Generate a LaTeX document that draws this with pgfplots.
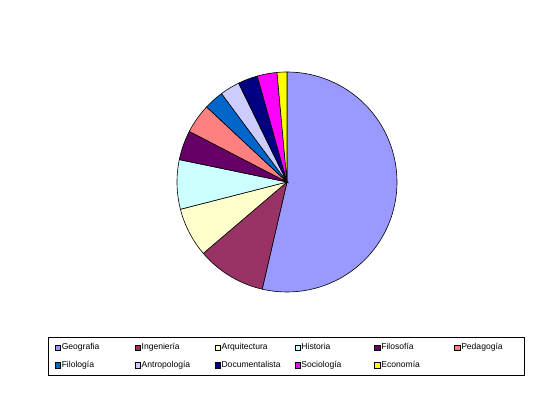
\documentclass[border=0pt]{standalone}
\usepackage{fontspec}
\setmainfont{Liberation Sans}
\usepackage{pgfplots}
\pgfplotsset{compat=1.18}

% slice colours
\definecolor{cGeo}{HTML}{9999FF}
\definecolor{cIng}{HTML}{993366}
\definecolor{cArq}{HTML}{FFFFCC}
\definecolor{cHis}{HTML}{CCFFFF}
\definecolor{cFil}{HTML}{660066}
\definecolor{cPed}{HTML}{FF8080}
\definecolor{cFlg}{HTML}{0066CC}
\definecolor{cAnt}{HTML}{CCCCFF}
\definecolor{cDoc}{HTML}{000080}
\definecolor{cSoc}{HTML}{FF00FF}
\definecolor{cEco}{HTML}{FFFF00}

% pie geometry (axis units = bp)
\def\cx{287}
\def\cy{220}
\def\rad{110}
\def\total{69}
\gdef\cum{0}

% one wedge: #1 count, #2 colour, #3 legend text
\newcommand\pieslice[3]{%
  \pgfmathsetmacro\sA{90-\cum/\total*360}%
  \pgfmathsetmacro\cumnew{\cum+#1}%
  \pgfmathsetmacro\sB{90-\cumnew/\total*360}%
  \global\let\cum\cumnew
  \edef\doslice{\noexpand\addplot[fill=#2, draw=black, line width=0.6bp,
      domain=\sB:\sA, samples=90]
    ({\cx+\rad*cos(x)},{\cy+\rad*sin(x)}) -- (axis cs:\cx,\cy) -- cycle;}%
  \doslice
  \addlegendentry{#3}%
}

\begin{document}
\begin{tikzpicture}
\useasboundingbox (0,0) rectangle (558bp,402bp);
\begin{axis}[
  at={(0,0)}, anchor=south west,
  width=558bp, height=402bp, scale only axis,
  xmin=0, xmax=558, ymin=0, ymax=402,
  hide axis, clip=false,
  legend columns=6,
  legend cell align=left,
  legend image code/.code={\draw[#1, draw=black, line width=0.5bp] (0bp,-2.8bp) rectangle (5.6bp,2.8bp);},
  legend style={
    at={(axis cs:48,65)}, anchor=north west,
    draw=black, line width=0.7bp,
    font=\fontsize{8.6}{10}\selectfont,
    inner xsep=6.5bp, inner ysep=5.5bp,
    nodes={inner sep=0.8bp, line width=0.5bp},
    /tikz/column sep=0pt,
    /tikz/row sep=8.5bp,
  },
]
\pieslice{37}{cGeo}{\makebox[72.2bp][l]{Geografia}}
\pieslice{7}{cIng}{\makebox[72.2bp][l]{Ingeniería}}
\pieslice{5}{cArq}{\makebox[72.2bp][l]{Arquitectura}}
\pieslice{5}{cHis}{\makebox[72.2bp][l]{Historia}}
\pieslice{3}{cFil}{\makebox[72.2bp][l]{Filosofía}}
\pieslice{3}{cPed}{\makebox[56bp][l]{Pedagogía}}
\pieslice{2}{cFlg}{\makebox[72.2bp][l]{Filología}}
\pieslice{2}{cAnt}{\makebox[72.2bp][l]{Antropología}}
\pieslice{2}{cDoc}{\makebox[72.2bp][l]{Documentalista}}
\pieslice{2}{cSoc}{\makebox[72.2bp][l]{Sociología}}
\pieslice{1}{cEco}{\makebox[72.2bp][l]{Economía}}
\end{axis}
\end{tikzpicture}
\end{document}
